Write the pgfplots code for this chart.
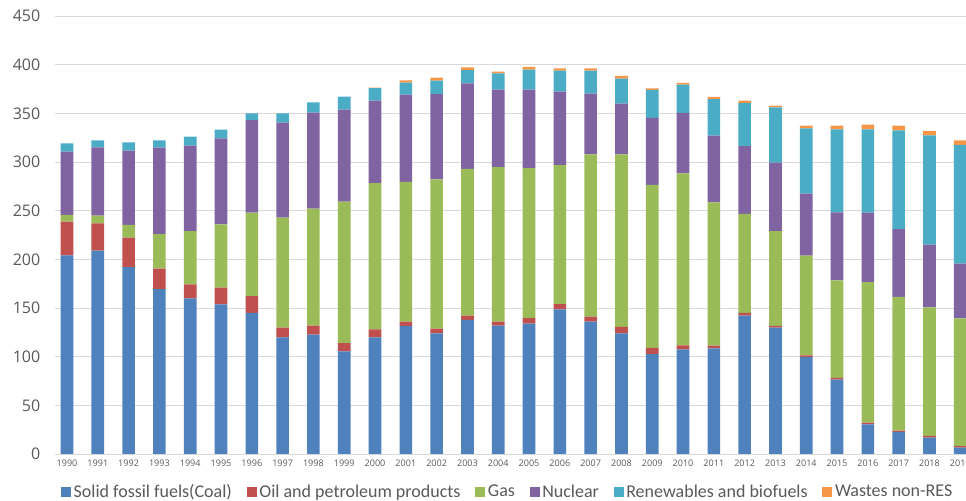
\documentclass[border=0pt]{standalone}
\usepackage{pgfplots}
\pgfplotsset{compat=1.18}
\usepackage{pgfplotstable}
\usepackage{fontspec}
\setmainfont{Carlito}
\newfontfamily\tickfont{Open Sans}
\definecolor{cCoal}{HTML}{4F81BD}
\definecolor{cOil}{HTML}{C0504D}
\definecolor{cGas}{HTML}{9BBB59}
\definecolor{cNuc}{HTML}{8064A2}
\definecolor{cRen}{HTML}{4BACC6}
\definecolor{cWas}{HTML}{F79646}
\definecolor{txt}{HTML}{595959}
\definecolor{grid}{HTML}{D9D9D9}
\pgfplotstableread{
x coal oil gas nuc ren was
0 204.1 34.6 6.9 65.0 8.6 0
1 208.9 28.1 7.9 70.2 7.2 0
2 192.1 30.1 13.1 76.4 8.5 0
3 169.5 20.9 35.6 88.7 7.6 0
4 160.0 14.3 54.8 87.7 9.2 0
5 153.8 17.1 65.1 88.3 9.0 0
6 144.9 17.4 85.7 95.0 7.0 0
7 119.9 9.9 113.0 97.6 9.6 0
8 122.6 9.3 120.1 98.7 10.6 0
9 105.5 8.5 145.2 94.6 13.4 0
10 119.9 8.2 150.3 84.6 13.0 0.5
11 131.5 4.4 143.6 89.7 12.3 2.4
12 124.0 4.7 153.5 87.4 14.0 3.0
13 137.7 4.4 150.7 88.0 13.7 2.8
14 131.9 4.0 158.7 79.7 16.8 1.7
15 133.9 5.8 154.1 80.5 20.6 2.7
16 148.7 5.4 142.8 75.4 21.5 2.5
17 135.9 5.2 166.8 62.3 23.6 2.5
18 124.0 6.5 177.4 52.0 25.7 2.8
19 102.7 6.2 167.5 68.8 28.8 1.7
20 107.6 4.1 176.7 62.0 29.0 1.8
21 108.6 2.7 147.3 68.5 37.6 2.1
22 142.1 2.8 101.7 69.8 44.2 2.4
23 129.8 1.7 97.6 70.2 56.7 2.0
24 99.7 1.7 102.3 63.7 67.1 2.8
25 76.3 1.8 100.4 69.8 85.3 3.7
26 30.5 1.7 144.5 71.2 85.7 4.7
27 22.6 1.3 137.4 69.6 101.7 4.7
28 16.8 1.7 132.2 64.3 112.4 4.5
29 6.5 1.7 131.2 56.1 122.0 4.8
}\datatable
\begin{document}
\begin{tikzpicture}
\begin{axis}[
  scale only axis,
  width=692.8pt, height=328.5pt,
  xmin=-0.39, xmax=29.6,
  ymin=0, ymax=450,
  ybar stacked,
  bar width=0.41,
  axis x line*=bottom, axis y line*=left,
  y axis line style={draw=none},
  x axis line style={draw=grid},
  major tick length=0pt,
  ymajorgrids, grid style={draw=grid, line width=0.6pt},
  xtick=data,
  xticklabels={1990,1991,1992,1993,1994,1995,1996,1997,1998,1999,2000,2001,2002,2003,2004,2005,2006,2007,2008,2009,2010,2011,2012,2013,2014,2015,2016,2017,2018,2019},
  xticklabel style={font=\tickfont\fontsize{6.8pt}{8pt}\selectfont, text=txt, yshift=-1pt},
  ytick={0,50,...,450},
  yticklabels={0,50,100,150,200,250,300,350,400,450},
  yticklabel style={font=\tickfont\fontsize{12pt}{14pt}\selectfont, text=txt, xshift=-7.5pt},
  legend style={at={(0.4904,-0.0868)}, anchor=center, draw=none, fill=none,
    legend columns=-1, font=\fontsize{13.5pt}{15pt}\selectfont, text=txt,
    nodes={inner xsep=2pt},
    /tikz/every even column/.append style={column sep=9pt}},
  legend image code/.code={\fill[#1] (0pt,-3.8pt) rectangle (7.5pt,3.7pt);},
]
\addplot[fill=cCoal, draw=none] table[x=x, y=coal]{\datatable};
\addplot[fill=cOil, draw=none] table[x=x, y=oil]{\datatable};
\addplot[fill=cGas, draw=none] table[x=x, y=gas]{\datatable};
\addplot[fill=cNuc, draw=none] table[x=x, y=nuc]{\datatable};
\addplot[fill=cRen, draw=none] table[x=x, y=ren]{\datatable};
\addplot[fill=cWas, draw=none] table[x=x, y=was]{\datatable};
\legend{Solid fossil fuels(Coal), Oil and petroleum products, Gas, Nuclear, Renewables and biofuels, Wastes non-RES}
\end{axis}
\pgfresetboundingbox
\path[use as bounding box] ([xshift=-41.25pt,yshift=-35.25pt]current axis.south west) rectangle ([xshift=683.25pt,yshift=12pt]current axis.north west);
\end{tikzpicture}
\end{document}
